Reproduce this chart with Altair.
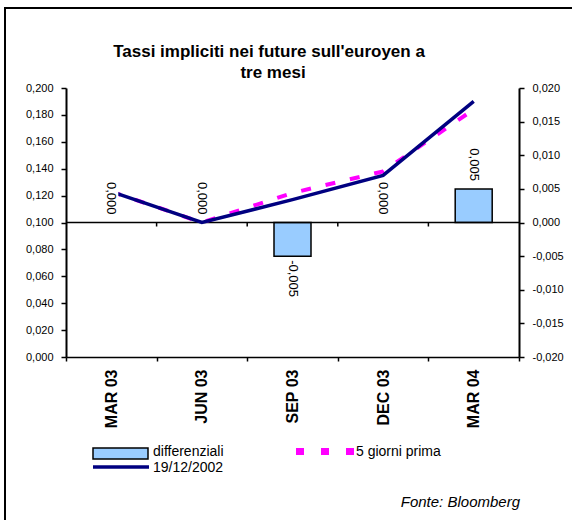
import altair as alt
import pandas as pd

# Futures expiries and implied rates
categories = ["MAR 03", "JUN 03", "SEP 03", "DEC 03", "MAR 04"]
differenziali = [0.0, 0.0, -0.005, 0.0, 0.005]
tasso_19_12_2002 = [0.123, 0.100, 0.117, 0.135, 0.190]
tasso_5_giorni_prima = [0.123, 0.100, 0.122, 0.138, 0.184]

left_ticks = [0.0, 0.02, 0.04, 0.06, 0.08, 0.10, 0.12, 0.14, 0.16, 0.18, 0.20]
right_ticks = [-0.02, -0.015, -0.01, -0.005, 0.0, 0.005, 0.01, 0.015, 0.02]

title_lines = ["Tassi impliciti nei future sull'euroyen a", "tre mesi"]
legend_labels = ["differenziali", "19/12/2002", "5 giorni prima"]
source_note = "Fonte: Bloomberg"

df = pd.DataFrame({
    "scadenza": categories,
    "diff": differenziali,
    "attuale": tasso_19_12_2002,
    "prima": tasso_5_giorni_prima,
})
one = pd.DataFrame({"k": [0]})

FONT = "Liberation Sans"
NAVY = "#000080"
MAGENTA = "#FF00FF"
BAR_FILL = "#99CCFF"

W, H = 453, 269

x_scale = alt.Scale(paddingInner=0, paddingOuter=0)
left_y = alt.Scale(domain=[0, 0.2], nice=False, zero=False)
right_y = alt.Scale(domain=[-0.02, 0.02], nice=False, zero=False)

comma = lambda f: f"replace(replace(format({f}, '.3f'), '.', ','), '\u2212', '-')"

cat_axis = alt.Axis(
    title=None, labelAngle=-90, labelAlign="right", labelBaseline="middle",
    labelFont=FONT, labelFontSize=16, labelFontWeight="bold", labelColor="black",
    labelPadding=8, tickBand="extent", tickSize=4, tickWidth=1.5, tickColor="black",
    domainColor="black", domainWidth=1.5, grid=False,
)
x_enc = alt.X("scadenza:N", sort=categories, scale=x_scale, axis=cat_axis)

left_axis = alt.Axis(
    orient="left", title=None, values=left_ticks, labelExpr=comma("datum.value"),
    labelFont=FONT, labelFontSize=11, labelColor="black", labelPadding=8,
    tickSize=5, tickWidth=1.5, tickColor="black", domainColor="black", domainWidth=2,
    grid=False,
)
right_axis = alt.Axis(
    orient="right", title=None, values=right_ticks, labelExpr=comma("datum.value"),
    labelFont=FONT, labelFontSize=11, labelColor="black", labelPadding=8,
    tickSize=5, tickWidth=1.5, tickColor="black", domainColor="black", domainWidth=2,
    grid=False,
)

# outer frame
frame = alt.Chart(one).mark_rect(fillOpacity=0, stroke="black", strokeWidth=2).encode(
    x=alt.value(-61), x2=alt.value(530), y=alt.value(-80), y2=alt.value(460)
)

bars = alt.Chart(df).transform_filter("datum.diff != 0").mark_bar(
    size=37, fill=BAR_FILL, stroke="black", strokeWidth=1.5
).encode(
    x=x_enc,
    y=alt.Y("diff:Q", scale=right_y, axis=right_axis),
    y2=alt.datum(0),
)

zero_line = alt.Chart(one).mark_rule(color="black", strokeWidth=1.5).encode(
    y=alt.YDatum(0, scale=right_y, axis=None)
)

bound_ticks = alt.Chart(df.iloc[1:]).mark_rule(color="black", strokeWidth=1.5, y2Offset=4).encode(
    x=alt.X("scadenza:N", sort=categories, scale=x_scale, axis=cat_axis, bandPosition=0),
    y=alt.YDatum(0, scale=right_y, axis=None),
    y2=alt.datum(0),
)

prior_line = alt.Chart(df).mark_line(color=MAGENTA, strokeWidth=4, strokeDash=[10, 15]).encode(
    x=x_enc,
    y=alt.Y("prima:Q", scale=left_y, axis=left_axis),
)

navy_line = alt.Chart(df).mark_line(color=NAVY, strokeWidth=3.5).encode(
    x=x_enc,
    y=alt.Y("attuale:Q", scale=left_y, axis=None),
)

BOX = "M-0.41,-1H0.41V1H-0.41Z"
label_boxes = alt.Chart(df).transform_filter("datum.diff >= 0").mark_point(
    shape=BOX, filled=True, color="white", size=1156, opacity=1, strokeWidth=0, yOffset=-25
).encode(
    x=x_enc,
    y=alt.Y("diff:Q", scale=right_y, axis=None),
)

labels_up = alt.Chart(df).transform_filter("datum.diff >= 0").transform_calculate(
    lbl=comma("datum.diff")
).mark_text(
    angle=90, align="right", baseline="middle", font=FONT, fontSize=13, color="black", yOffset=-8
).encode(
    x=x_enc,
    y=alt.Y("diff:Q", scale=right_y, axis=None),
    text="lbl:N",
)

labels_down = alt.Chart(df).transform_filter("datum.diff < 0").transform_calculate(
    lbl=comma("datum.diff")
).mark_text(
    angle=90, align="left", baseline="middle", font=FONT, fontSize=13, color="black", yOffset=4
).encode(
    x=x_enc,
    y=alt.Y("diff:Q", scale=right_y, axis=None),
    text="lbl:N",
)

title_style = dict(font=FONT, fontSize=17, fontWeight="bold", color="black",
                   align="center", baseline="alphabetic")
title1 = alt.Chart(one).mark_text(**title_style).encode(
    x=alt.value(203), y=alt.value(-31), text=alt.value(title_lines[0]))
title2 = alt.Chart(one).mark_text(**title_style).encode(
    x=alt.value(207), y=alt.value(-10), text=alt.value(title_lines[1]))

# legend
leg_box = alt.Chart(one).mark_rect(fill=BAR_FILL, stroke="black", strokeWidth=1.5).encode(
    x=alt.value(27), x2=alt.value(82), y=alt.value(360), y2=alt.value(371)
)
leg_navy = alt.Chart(one).mark_rule(color=NAVY, strokeWidth=3.5).encode(
    x=alt.value(27), x2=alt.value(83), y=alt.value(379)
)
leg_magenta = alt.Chart(one).mark_rule(color=MAGENTA, strokeWidth=7, strokeDash=[8, 17]).encode(
    x=alt.value(230), x2=alt.value(289), y=alt.value(363.5)
)
leg_text_style = dict(font=FONT, fontSize=14, color="black", align="left", baseline="middle")
leg_t1 = alt.Chart(one).mark_text(**leg_text_style).encode(
    x=alt.value(87), y=alt.value(364), text=alt.value(legend_labels[0]))
leg_t2 = alt.Chart(one).mark_text(**leg_text_style).encode(
    x=alt.value(87), y=alt.value(380), text=alt.value(legend_labels[1]))
leg_t3 = alt.Chart(one).mark_text(**leg_text_style).encode(
    x=alt.value(290), y=alt.value(364), text=alt.value(legend_labels[2]))

source = alt.Chart(one).mark_text(
    font=FONT, fontSize=15, fontStyle="italic", color="black", align="right", baseline="middle"
).encode(x=alt.value(454), y=alt.value(414), text=alt.value(source_note))

chart = alt.layer(
    frame, bars, zero_line, bound_ticks, prior_line, navy_line,
    label_boxes, labels_up, labels_down,
    title1, title2, leg_box, leg_navy, leg_magenta, leg_t1, leg_t2, leg_t3, source,
).resolve_scale(
    y="independent"
).properties(
    width=W, height=H,
    autosize=alt.AutoSizeParams(type="none"),
    padding={"left": 66, "top": 88, "right": 53, "bottom": 163},
    background="white",
).configure_view(stroke=None)

chart.save("out.html", embed_options={"renderer": "svg", "actions": False})
